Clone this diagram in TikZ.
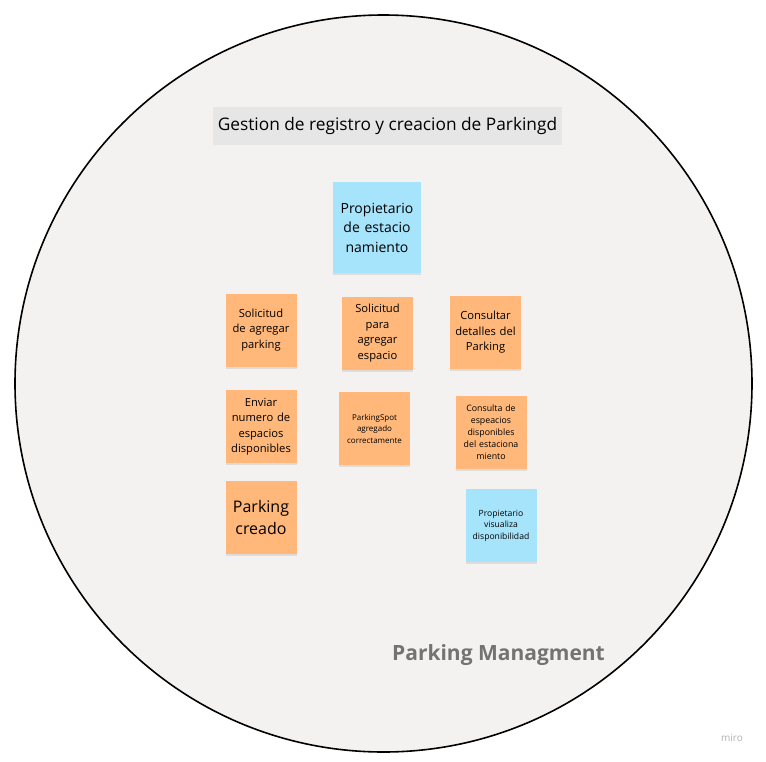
\documentclass[tikz,border=0pt]{standalone}
\usepackage{fontspec}
\setmainfont{Open Sans}
\usetikzlibrary{shadows}
\definecolor{fondo}{RGB}{244,242,240}
\definecolor{naranja}{RGB}{255,184,122}
\definecolor{celeste}{RGB}{166,228,252}
\definecolor{titulo}{RGB}{230,230,230}
\begin{document}
\begin{tikzpicture}[x=1pt, y=-1pt,
			nota/.style={minimum width=71pt, minimum height=73pt, inner sep=1pt, align=center, text width=69pt,
				drop shadow={opacity=0.18, shadow xshift=0pt, shadow yshift=-2pt}},
			naranjo/.style={nota, fill=naranja},
			azul/.style={nota, fill=celeste}]
			\useasboundingbox (0,0) rectangle (766,761);
			\fill[white] (0,0) rectangle (766,761);
			\draw[fondo, fill=fondo] (383.5,383.5) circle (368.5pt);
			\draw[black, line width=1.6pt] (383.5,383.5) circle (368.5pt);
			% titulo
			\node[fill=titulo, minimum width=349pt, minimum height=38pt, font=\fontsize{17.3}{20}\selectfont] (tit) at (387.5,126) {Gestion de registro y creacion de Parkingd};
			% notas
			\node[azul, minimum width=88pt, minimum height=91pt, text width=86pt, font=\fontsize{14}{19.5}\selectfont] (prop) at (377,227.5) {Propietario\\de estacio\\namiento};
			\node[naranjo, font=\fontsize{11.2}{15.5}\selectfont] (sol1) at (261,330) {Solicitud\\de agregar\\parking};
			\node[naranjo, font=\fontsize{11.2}{15.5}\selectfont] (sol2) at (377.5,333) {Solicitud\\para\\agregar\\espacio};
			\node[naranjo, font=\fontsize{11.2}{15.5}\selectfont] (cons1) at (485.5,332.5) {Consultar\\detalles del\\Parking};
			\node[naranjo, font=\fontsize{11.2}{15.5}\selectfont] (env) at (261,426.5) {Enviar\\numero de\\espacios\\disponibles};
			\node[naranjo, font=\fontsize{8}{11.5}\selectfont] (spot) at (374.5,428.5) {ParkingSpot\\agregado\\correctamente};
			\node[naranjo, font=\fontsize{8.8}{12}\selectfont] (cons2) at (491,432.5) {Consulta de\\espeacios\\disponibles\\del estaciona\\miento};
			\node[naranjo, font=\fontsize{16}{22}\selectfont] (creado) at (261,517) {Parking\\creado};
			\node[azul, font=\fontsize{8.6}{11.5}\selectfont] (vis) at (501,525.5) {Propietario\\visualiza\\disponibilidad};
			% etiquetas
			\node[text=black!55, font=\fontsize{21}{24}\bfseries\selectfont] (area) at (498.5,655) {Parking Managment};
			\node[text=black!30, font=\fontsize{10}{12}\selectfont] (miro) at (732,738) {miro};
		\end{tikzpicture}
\end{document}
